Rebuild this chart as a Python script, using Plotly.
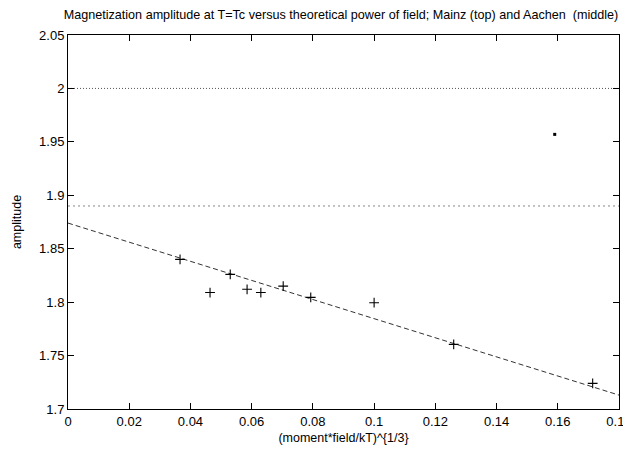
import plotly.graph_objects as go

# Aachen data (crosses)
aachen_x = [0.0366, 0.0464, 0.053, 0.0585, 0.063, 0.0703, 0.0793, 0.100, 0.126, 0.1714]
aachen_y = [1.840, 1.809, 1.826, 1.812, 1.809, 1.815, 1.8045, 1.7995, 1.7605, 1.724]

# Mainz data (dot)
mainz_x = [0.159]
mainz_y = [1.957]

# reference levels
mainz_level = 2.0
aachen_level = 1.89

# fitted line endpoints
fit_x = [0.0, 0.18]
fit_y = [1.874, 1.713]

x_range = [0.0, 0.18]
y_range = [1.7, 2.05]

x_ticks = [0, 0.02, 0.04, 0.06, 0.08, 0.1, 0.12, 0.14, 0.16, 0.18]
x_ticktext = ["0", "0.02", "0.04", "0.06", "0.08", "0.1", "0.12", "0.14", "0.16", "0.18"]
y_ticks = [1.7, 1.75, 1.8, 1.85, 1.9, 1.95, 2.0, 2.05]
y_ticktext = ["1.7", "1.75", "1.8", "1.85", "1.9", "1.95", "2", "2.05"]

fig = go.Figure()

fig.add_trace(go.Scatter(x=x_range, y=[mainz_level, mainz_level], mode="lines",
                         line=dict(color="#555555", width=1, dash="1px,2px"),
                         showlegend=False, hoverinfo="skip"))
fig.add_trace(go.Scatter(x=x_range, y=[aachen_level, aachen_level], mode="lines",
                         line=dict(color="#666666", width=0.8, dash="2px,3px"),
                         showlegend=False, hoverinfo="skip"))
fig.add_trace(go.Scatter(x=fit_x, y=fit_y, mode="lines",
                         line=dict(color="#333333", width=1, dash="5px,3px"),
                         showlegend=False, hoverinfo="skip"))
fig.add_trace(go.Scatter(x=aachen_x, y=aachen_y, mode="markers",
                         marker=dict(symbol="cross-thin", size=7,
                                     line=dict(color="black", width=1.1)),
                         showlegend=False))
fig.add_trace(go.Scatter(x=mainz_x, y=mainz_y, mode="markers",
                         marker=dict(symbol="square", size=3, color="black"),
                         showlegend=False))

fig.update_layout(
    width=623, height=441,
    margin=dict(l=60, r=12, t=27, b=40),
    paper_bgcolor="white", plot_bgcolor="white",
    font=dict(family="Liberation Sans, Arial, sans-serif", size=13, color="black"),
    title=dict(text="Magnetization amplitude at T=Tc versus theoretical power of field; Mainz (top) and Aachen  (middle)",
               x=0.5345, xanchor="center", y=0.984, yanchor="middle",
               font=dict(size=12.6)),
)

fig.update_xaxes(range=x_range, tickvals=x_ticks, ticktext=x_ticktext,
                 ticks="inside", ticklen=6, tickcolor="black",
                 showline=True, linecolor="black", linewidth=1, mirror="ticks",
                 showgrid=False, zeroline=False, automargin=False,
                 ticklabeloverflow="allow",
                 title=dict(text="(moment*field/kT)^{1/3}", standoff=5, font=dict(size=12.5)))
fig.update_yaxes(range=y_range, tickvals=y_ticks, ticktext=y_ticktext,
                 ticks="inside", ticklen=6, tickcolor="black",
                 showline=True, linecolor="black", linewidth=1, mirror="ticks",
                 showgrid=False, zeroline=False, automargin=False,
                 title=dict(text="amplitude", standoff=14, font=dict(size=12.5)))

fig.write_html("out.html")
